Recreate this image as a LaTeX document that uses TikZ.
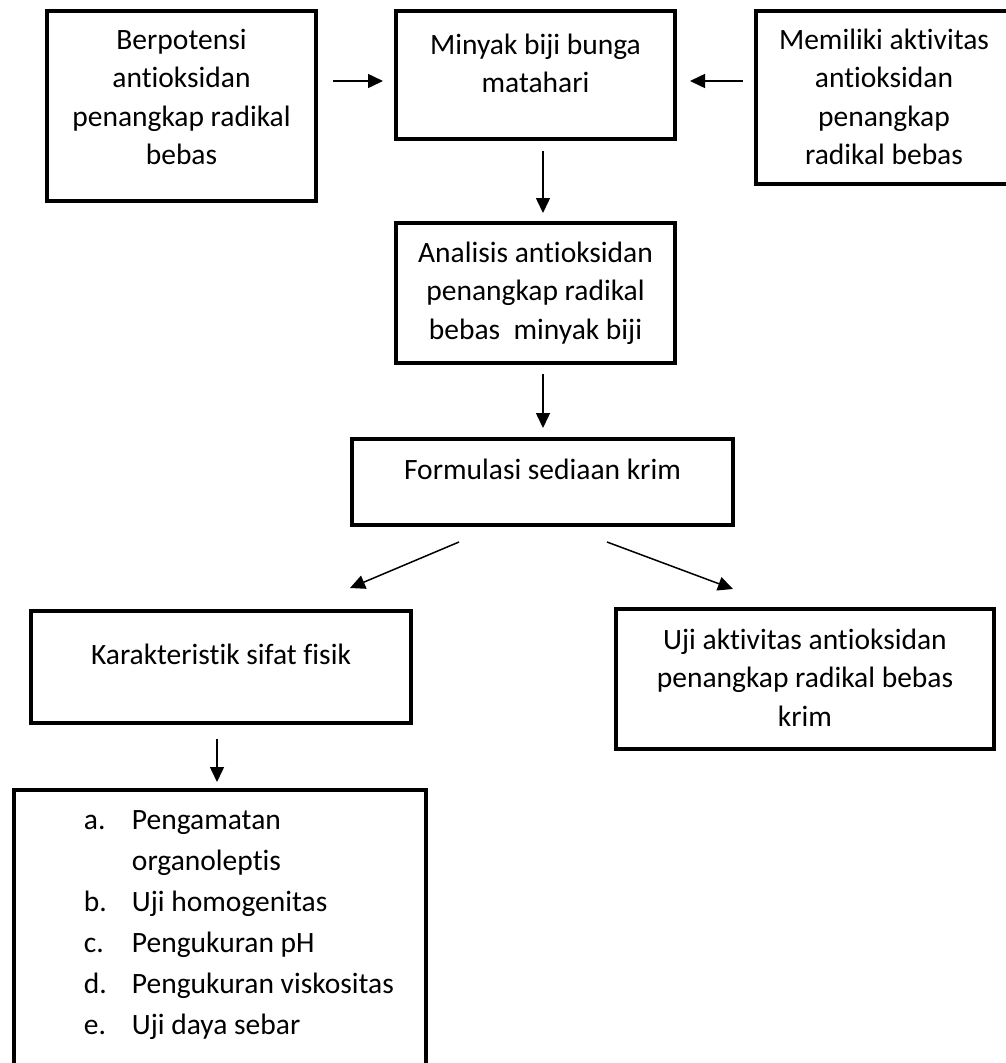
\documentclass[tikz,border=0pt]{standalone}
\usepackage{fontspec}
\setmainfont{Carlito}[Ligatures=NoCommon]
\usepackage{tikz}
\usetikzlibrary{positioning,calc,arrows.meta}
\newcommand{\topgap}[1]{\rule{0pt}{#1}}
\newcommand{\botgap}[1]{\rule[-#1]{0pt}{#1}}
\newcommand{\itm}[2]{\hspace*{70pt}\makebox[48pt][l]{#1}#2}

\begin{document}
\begin{tikzpicture}[x=1pt, y=-1pt,
    box/.style={draw, line width=4pt, inner sep=0pt, anchor=north west, align=center,
        font=\fontsize{29.5}{38.5}\selectfont},
    arr/.style={-{Triangle[length=15pt,width=14pt]}, line width=1.5pt}]
    \useasboundingbox (0,0) rectangle (1006,1063);
    % Top row
    \node[box, minimum width=269pt] (pot) at (45,9)
        {\topgap{38pt}Berpotensi\\antioksidan\\penangkap radikal\\bebas\botgap{36.5pt}};
    \node[box, minimum width=279pt] (oil) at (394,9)
        {\topgap{43pt}Minyak biji bunga\\matahari\botgap{46.5pt}};
    \node[box, minimum width=256pt] (mem) at (754,9)
        {\topgap{38pt}Memiliki aktivitas\\antioksidan\\penangkap\\radikal bebas\botgap{19.5pt}};
    % Middle column
    \node[box, minimum width=279pt] (anal) at (394,221)
        {\topgap{39pt}Analisis antioksidan\\penangkap radikal\\bebas\ \ minyak biji\botgap{24pt}};
    \node[box, minimum width=381pt] (form) at (350,437)
        {\topgap{40pt}Formulasi sediaan krim\botgap{46pt}};
    % Bottom branches
    \node[box, minimum width=380pt] (kar) at (29,609)
        {\topgap{53pt}Karakteristik sifat fisik\botgap{59pt}};
    \node[box, minimum width=378pt] (uji) at (614,607)
        {\topgap{40pt}Uji aktivitas antioksidan\\penangkap radikal bebas\\krim\botgap{23pt}};
    \node[box, align=flush left, text width=412pt, font=\fontsize{29.5}{41}\selectfont] (tests) at (12,788)
        {\topgap{39pt}\itm{a.}{Pengamatan}\\
         \hspace*{118pt}organoleptis\\
         \itm{b.}{Uji homogenitas}\\
         \itm{c.}{Pengukuran pH}\\
         \itm{d.}{Pengukuran viskositas}\\
         \itm{e.}{Uji daya sebar}\\
         \mbox{}\botgap{20pt}};
    % Arrows
    \draw[arr, shorten <=15pt, shorten >=11pt] ([yshift=25pt]pot.east) -- ([yshift=25pt]pot.east -| oil.west);
    \draw[arr, shorten <=11pt, shorten >=13pt] ([yshift=16.5pt]mem.west) -- ([yshift=16.5pt]mem.west -| oil.east);
    \draw[arr, shorten <=10pt, shorten >=8pt] ([xshift=7.5pt]oil.south) -- ([xshift=7.5pt]oil.south |- anal.north);
    \draw[arr, shorten <=9pt, shorten >=9pt] ([xshift=7.5pt]anal.south) -- ([xshift=7.5pt]anal.south |- form.north);
    \draw[arr] ([xshift=-83.5pt,yshift=-15pt]form.south) -- ([xshift=129pt,yshift=21pt]kar.north);
    \draw[arr] ([xshift=64.5pt,yshift=-15pt]form.south) -- ([xshift=-72pt,yshift=18pt]uji.north);
    \draw[arr, shorten <=14pt, shorten >=6pt] ([xshift=-4pt]kar.south) -- ([xshift=-4pt]kar.south |- tests.north);
\end{tikzpicture}
\end{document}
